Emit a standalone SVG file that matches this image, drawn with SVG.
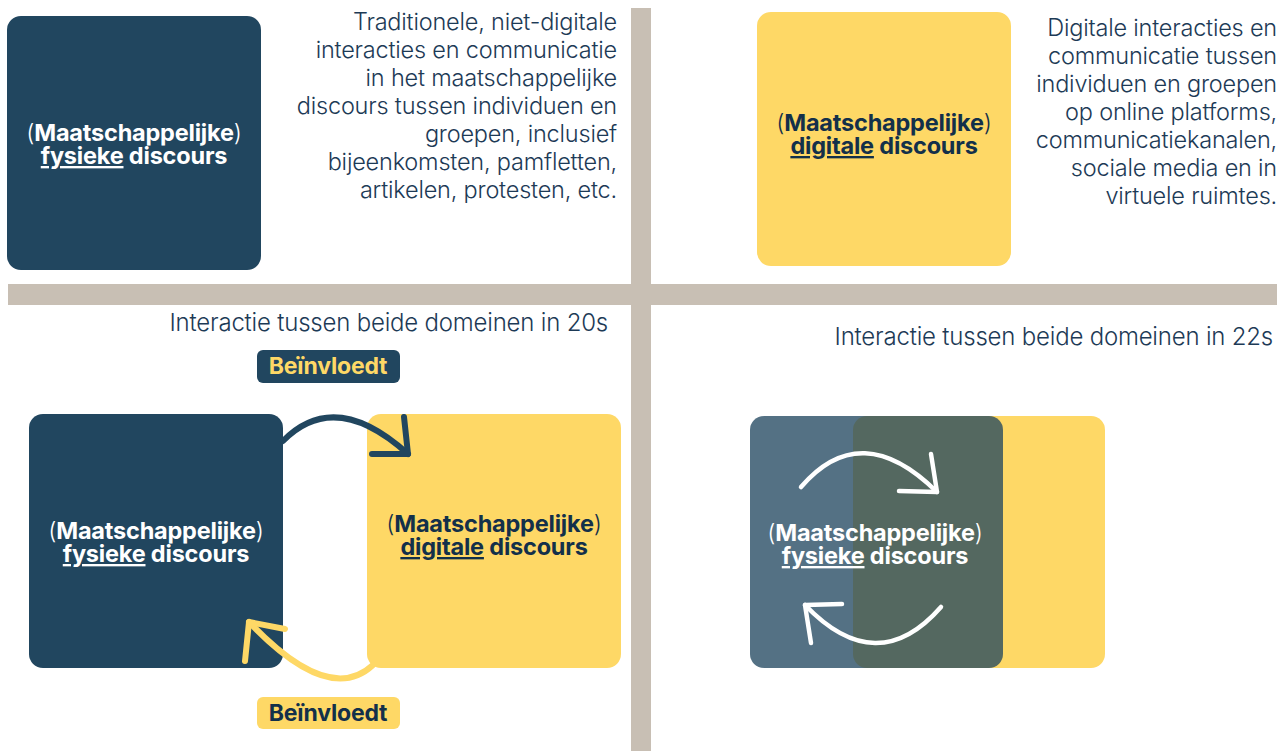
<svg xmlns="http://www.w3.org/2000/svg" width="1285" height="751" viewBox="0 0 1285 751">
<style>
.bar{fill:#C8BFB4}
.navy{fill:#21465F}
.yellow{fill:#FED866}
.desc{font-family:Inter,"Liberation Sans",sans-serif;font-weight:300;font-size:23.5px;fill:#1D3A56;text-anchor:end;letter-spacing:-0.2px}
.head{font-family:Inter,"Liberation Sans",sans-serif;font-weight:300;font-size:24px;fill:#1D3A56;text-anchor:end;letter-spacing:-0.2px}
.lbl{font-family:Inter,"Liberation Sans",sans-serif;font-weight:700;font-size:23.5px;text-anchor:middle;letter-spacing:-0.2px}
.par{font-weight:300}
.u{text-decoration:underline}
.w{fill:#FFFFFF}
.d{fill:#13304A}
.badge{font-family:Inter,"Liberation Sans",sans-serif;font-weight:700;font-size:23px;text-anchor:middle;letter-spacing:-0.2px}
.arc{fill:none;stroke-width:6;stroke-linecap:round;stroke-linejoin:round}
.warc{fill:none;stroke:#FFFFFF;stroke-width:4.5;stroke-linecap:round;stroke-linejoin:round}
</style>
<rect width="1285" height="751" fill="#FFFFFF"/>
<g id="dividers">
<rect class="bar" x="631" y="8" width="20" height="743"/>
<rect class="bar" x="8" y="284" width="1269" height="21"/>
</g>
<g id="node-fysiek">
<rect class="navy" x="7" y="16" width="254" height="254" rx="14"/>
<text class="lbl w" x="134" y="141"><tspan class="par">(</tspan>Maatschappelijke<tspan class="par">)</tspan><tspan x="134" dy="23" class="u">fysieke</tspan> discours</text>
</g>
<g id="desc-fysiek">
<text class="desc" x="617" y="30">Traditionele, niet-digitale</text>
<text class="desc" x="617" y="58">interacties en communicatie</text>
<text class="desc" x="617" y="86">in het maatschappelijke</text>
<text class="desc" x="617" y="114">discours tussen individuen en</text>
<text class="desc" x="617" y="142">groepen, inclusief</text>
<text class="desc" x="617" y="170">bijeenkomsten, pamfletten,</text>
<text class="desc" x="617" y="198">artikelen, protesten, etc.</text>
</g>
<g id="node-digitaal">
<rect class="yellow" x="757" y="12" width="254" height="254" rx="14"/>
<text class="lbl d" x="884" y="131"><tspan class="par">(</tspan>Maatschappelijke<tspan class="par">)</tspan><tspan x="884" dy="23" class="u">digitale</tspan> discours</text>
</g>
<g id="desc-digitaal">
<text class="desc" x="1277" y="36">Digitale interacties en</text>
<text class="desc" x="1277" y="64">communicatie tussen</text>
<text class="desc" x="1277" y="92">individuen en groepen</text>
<text class="desc" x="1277" y="120">op online platforms,</text>
<text class="desc" x="1277" y="148">communicatiekanalen,</text>
<text class="desc" x="1277" y="176">sociale media en in</text>
<text class="desc" x="1277" y="204">virtuele ruimtes.</text>
</g>
<g id="title-20s">
<text class="head" x="608" y="331">Interactie tussen beide domeinen in 20s</text>
</g>
<g id="badge-top">
<rect class="navy" x="257" y="350" width="143" height="33" rx="6"/>
<text class="badge" x="328" y="374" fill="#FED866">Beïnvloedt</text>
</g>
<g id="node-fysiek-20s">
<rect class="navy" x="29" y="414" width="254" height="254" rx="14"/>
<text class="lbl w" x="156" y="539"><tspan class="par">(</tspan>Maatschappelijke<tspan class="par">)</tspan><tspan x="156" dy="23" class="u">fysieke</tspan> discours</text>
</g>
<g id="node-digitaal-20s">
<rect class="yellow" x="367" y="414" width="254" height="254" rx="14"/>
<text class="lbl d" x="494" y="532"><tspan class="par">(</tspan>Maatschappelijke<tspan class="par">)</tspan><tspan x="494" dy="23" class="u">digitale</tspan> discours</text>
</g>
<g id="badge-bottom">
<rect class="yellow" x="257" y="697" width="143" height="32" rx="6"/>
<text class="badge" x="328" y="721" fill="#13304A">Beïnvloedt</text>
</g>
<g id="title-22s">
<text class="head" x="1273" y="345">Interactie tussen beide domeinen in 22s</text>
</g>
<g id="node-22s">
<rect class="yellow" x="853" y="416" width="252" height="252" rx="14"/>
<rect class="navy" x="750" y="416" width="253" height="252" rx="14" fill-opacity="0.77"/>
<text class="lbl w" x="875" y="541"><tspan class="par">(</tspan>Maatschappelijke<tspan class="par">)</tspan><tspan x="875" dy="23" class="u">fysieke</tspan> discours</text>
</g>
<g id="connectors">
<path class="arc" stroke="#21465F" d="M283,441 Q335,388 408,454"/>
<path class="arc" stroke="#21465F" d="M404,417 L408,454 L372,454"/>
<path class="arc" stroke="#FED866" d="M373,665 Q329,706 249,622"/>
<path class="arc" stroke="#FED866" d="M245,661 L249,622 L285,629"/>
<path class="warc" d="M801,487 Q861,417 937,492"/>
<path class="warc" d="M931,454 L937,492 L899,491"/>
<path class="warc" d="M941,607 Q877,680 805,605"/>
<path class="warc" d="M811,643 L805,605 L842,604"/>
</g>
</svg>
